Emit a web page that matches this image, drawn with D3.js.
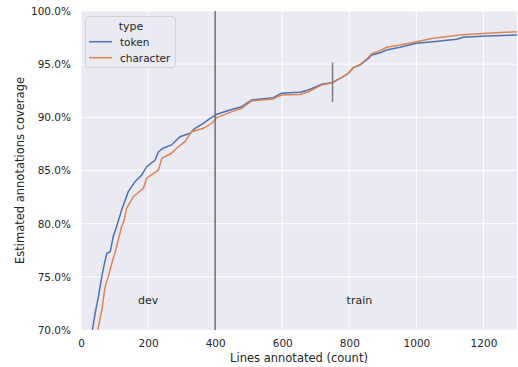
<!DOCTYPE html>
<html>
<head>
<meta charset="utf-8">
<script src="https://cdn.jsdelivr.net/npm/d3@7"></script>
<style>
    body { margin: 0; background: #ffffff; }
    text { font-family: "DejaVu Sans", sans-serif; fill: #262626; }
</style>
</head>
<body>
<div id="chart"></div>
<script>
// Lines annotated vs estimated coverage (percent)
const tokenX = [34, 42, 52, 62, 70, 77, 87, 96, 106, 121, 141, 161, 181, 196, 221, 231, 245, 270, 295,
    325, 340, 365, 385, 405, 444, 479, 509, 573, 598, 653, 678, 718, 748, 777, 797, 812, 832, 857,
    867, 892, 911, 951, 1001, 1050, 1120, 1140, 1210, 1300];
const tokenY = [70.0, 71.57, 73.13, 75.01, 76.27, 77.21, 77.36, 78.77, 79.71, 81.28, 83.01, 83.95, 84.58,
    85.36, 85.99, 86.77, 87.09, 87.40, 88.18, 88.50, 88.97, 89.44, 89.91, 90.29, 90.69, 91.00, 91.63,
    91.85, 92.26, 92.35, 92.57, 93.11, 93.26, 93.73, 94.14, 94.67, 94.92, 95.55, 95.86, 96.08, 96.33,
    96.59, 96.96, 97.11, 97.34, 97.53, 97.65, 97.74];

const charX = [50, 62, 72, 81, 92, 101, 111, 121, 129, 136, 156, 186, 196, 231, 241, 270, 285, 310, 330,
    365, 390, 405, 444, 479, 509, 573, 598, 653, 678, 718, 748, 777, 797, 812, 832, 857, 867, 892,
    911, 951, 1001, 1050, 1130, 1210, 1300];
const charY = [70.0, 71.88, 74.07, 75.01, 76.27, 77.21, 78.46, 79.71, 80.34, 81.44, 82.54, 83.33, 84.27,
    85.05, 86.15, 86.62, 87.09, 87.71, 88.65, 88.97, 89.44, 89.97, 90.47, 90.85, 91.54, 91.72, 92.10,
    92.15, 92.41, 93.05, 93.24, 93.73, 94.14, 94.67, 94.95, 95.65, 95.98, 96.27, 96.59, 96.80, 97.11,
    97.43, 97.74, 97.90, 98.05];

const seriesNames = ['token', 'character'];
const seriesColors = ['#4c72b0', '#dd8452'];

const xTicks = [0, 200, 400, 600, 800, 1000, 1200];
const yTicks = [70, 75, 80, 85, 90, 95, 100];

// Split markers and region labels
const splitX = 400;
const markX = 750;
const markRange = [91.45, 95.15];
const regionLabels = ['dev', 'train'];
const regionX = [200, 830];
const regionY = 72.4;

function createCoverageChart() {
    const width = 518;
    const height = 367;
    const margin = { top: 11, right: 1, bottom: 37, left: 81 };

    const svg = d3.select('#chart')
        .append('svg')
        .attr('width', width)
        .attr('height', height);

    const x = d3.scaleLinear()
        .domain([0, 1300])
        .range([margin.left, width - margin.right]);

    const y = d3.scaleLinear()
        .domain([70, 100])
        .range([height - margin.bottom, margin.top]);

    // Plot background
    svg.append('rect')
        .attr('x', margin.left)
        .attr('y', margin.top)
        .attr('width', x.range()[1] - x.range()[0])
        .attr('height', y.range()[0] - y.range()[1])
        .attr('fill', '#eaeaf2');

    // Grid lines
    svg.append('g')
        .selectAll('line')
        .data(xTicks)
        .join('line')
        .attr('x1', d => x(d))
        .attr('x2', d => x(d))
        .attr('y1', y.range()[0])
        .attr('y2', y.range()[1])
        .attr('stroke', '#ffffff')
        .attr('stroke-width', 1);

    svg.append('g')
        .selectAll('line')
        .data(yTicks)
        .join('line')
        .attr('x1', x.range()[0])
        .attr('x2', x.range()[1])
        .attr('y1', d => y(d))
        .attr('y2', d => y(d))
        .attr('stroke', '#ffffff')
        .attr('stroke-width', 1);

    // Axes (tick text only, seaborn darkgrid style)
    const xAxis = svg.append('g')
        .attr('transform', `translate(0,${y.range()[0]})`)
        .call(d3.axisBottom(x).tickValues(xTicks).tickSize(0).tickPadding(10).tickFormat(d3.format('d')));
    xAxis.select('.domain').remove();
    xAxis.selectAll('text').attr('font-size', '10.5px').attr('fill', '#262626');

    const yAxis = svg.append('g')
        .attr('transform', `translate(${margin.left},0)`)
        .call(d3.axisLeft(y).tickValues(yTicks).tickSize(0).tickPadding(10).tickFormat(d => d.toFixed(1) + '%'));
    yAxis.select('.domain').remove();
    yAxis.selectAll('text').attr('font-size', '10.5px').attr('fill', '#262626');

    // Axis titles
    svg.append('text')
        .attr('x', (x.range()[0] + x.range()[1]) / 2)
        .attr('y', 362)
        .attr('text-anchor', 'middle')
        .attr('font-size', '11.5px')
        .text('Lines annotated (count)');

    svg.append('text')
        .attr('transform', `translate(24,${(y.range()[0] + y.range()[1]) / 2}) rotate(-90)`)
        .attr('text-anchor', 'middle')
        .attr('font-size', '11.5px')
        .text('Estimated annotations coverage');

    // Clip the lines to the plot area
    svg.append('clipPath')
        .attr('id', 'plotClip')
        .append('rect')
        .attr('x', margin.left)
        .attr('y', margin.top)
        .attr('width', x.range()[1] - x.range()[0])
        .attr('height', y.range()[0] - y.range()[1]);

    const line = d3.line()
        .x(d => x(d[0]))
        .y(d => y(d[1]));

    const seriesData = [d3.zip(tokenX, tokenY), d3.zip(charX, charY)];

    svg.append('g')
        .attr('clip-path', 'url(#plotClip)')
        .selectAll('path')
        .data(seriesData)
        .join('path')
        .attr('d', line)
        .attr('fill', 'none')
        .attr('stroke', (d, i) => seriesColors[i])
        .attr('stroke-width', 1.5);

    // dev / train split line and marker
    svg.append('line')
        .attr('x1', x(splitX))
        .attr('x2', x(splitX))
        .attr('y1', y.range()[0])
        .attr('y2', y.range()[1])
        .attr('stroke', '#6e6e6e')
        .attr('stroke-width', 1.5);

    svg.append('line')
        .attr('x1', x(markX))
        .attr('x2', x(markX))
        .attr('y1', y(markRange[0]))
        .attr('y2', y(markRange[1]))
        .attr('stroke', '#7a7a7a')
        .attr('stroke-width', 1.5);

    svg.append('g')
        .selectAll('text')
        .data(regionLabels)
        .join('text')
        .attr('x', (d, i) => x(regionX[i]))
        .attr('y', y(regionY))
        .attr('text-anchor', 'middle')
        .attr('font-size', '11px')
        .text(d => d);

    // Legend
    const legend = svg.append('g');
    legend.append('rect')
        .attr('x', 85.5)
        .attr('y', 16.5)
        .attr('width', 90)
        .attr('height', 51)
        .attr('rx', 3)
        .attr('fill', '#eaeaf2')
        .attr('fill-opacity', 0.8)
        .attr('stroke', '#cccccc')
        .attr('stroke-width', 0.8);

    legend.append('text')
        .attr('x', 131)
        .attr('y', 30)
        .attr('text-anchor', 'middle')
        .attr('font-size', '11px')
        .text('type');

    const items = legend.selectAll('.item')
        .data(seriesNames)
        .join('g')
        .attr('class', 'item')
        .attr('transform', (d, i) => `translate(0,${41.7 + i * 16})`);

    items.append('line')
        .attr('x1', 89)
        .attr('x2', 112)
        .attr('stroke', (d, i) => seriesColors[i])
        .attr('stroke-width', 1.5);

    items.append('text')
        .attr('x', 120)
        .attr('y', 3.8)
        .attr('font-size', '10.5px')
        .text(d => d);
}

createCoverageChart();
</script>
</body>
</html>
